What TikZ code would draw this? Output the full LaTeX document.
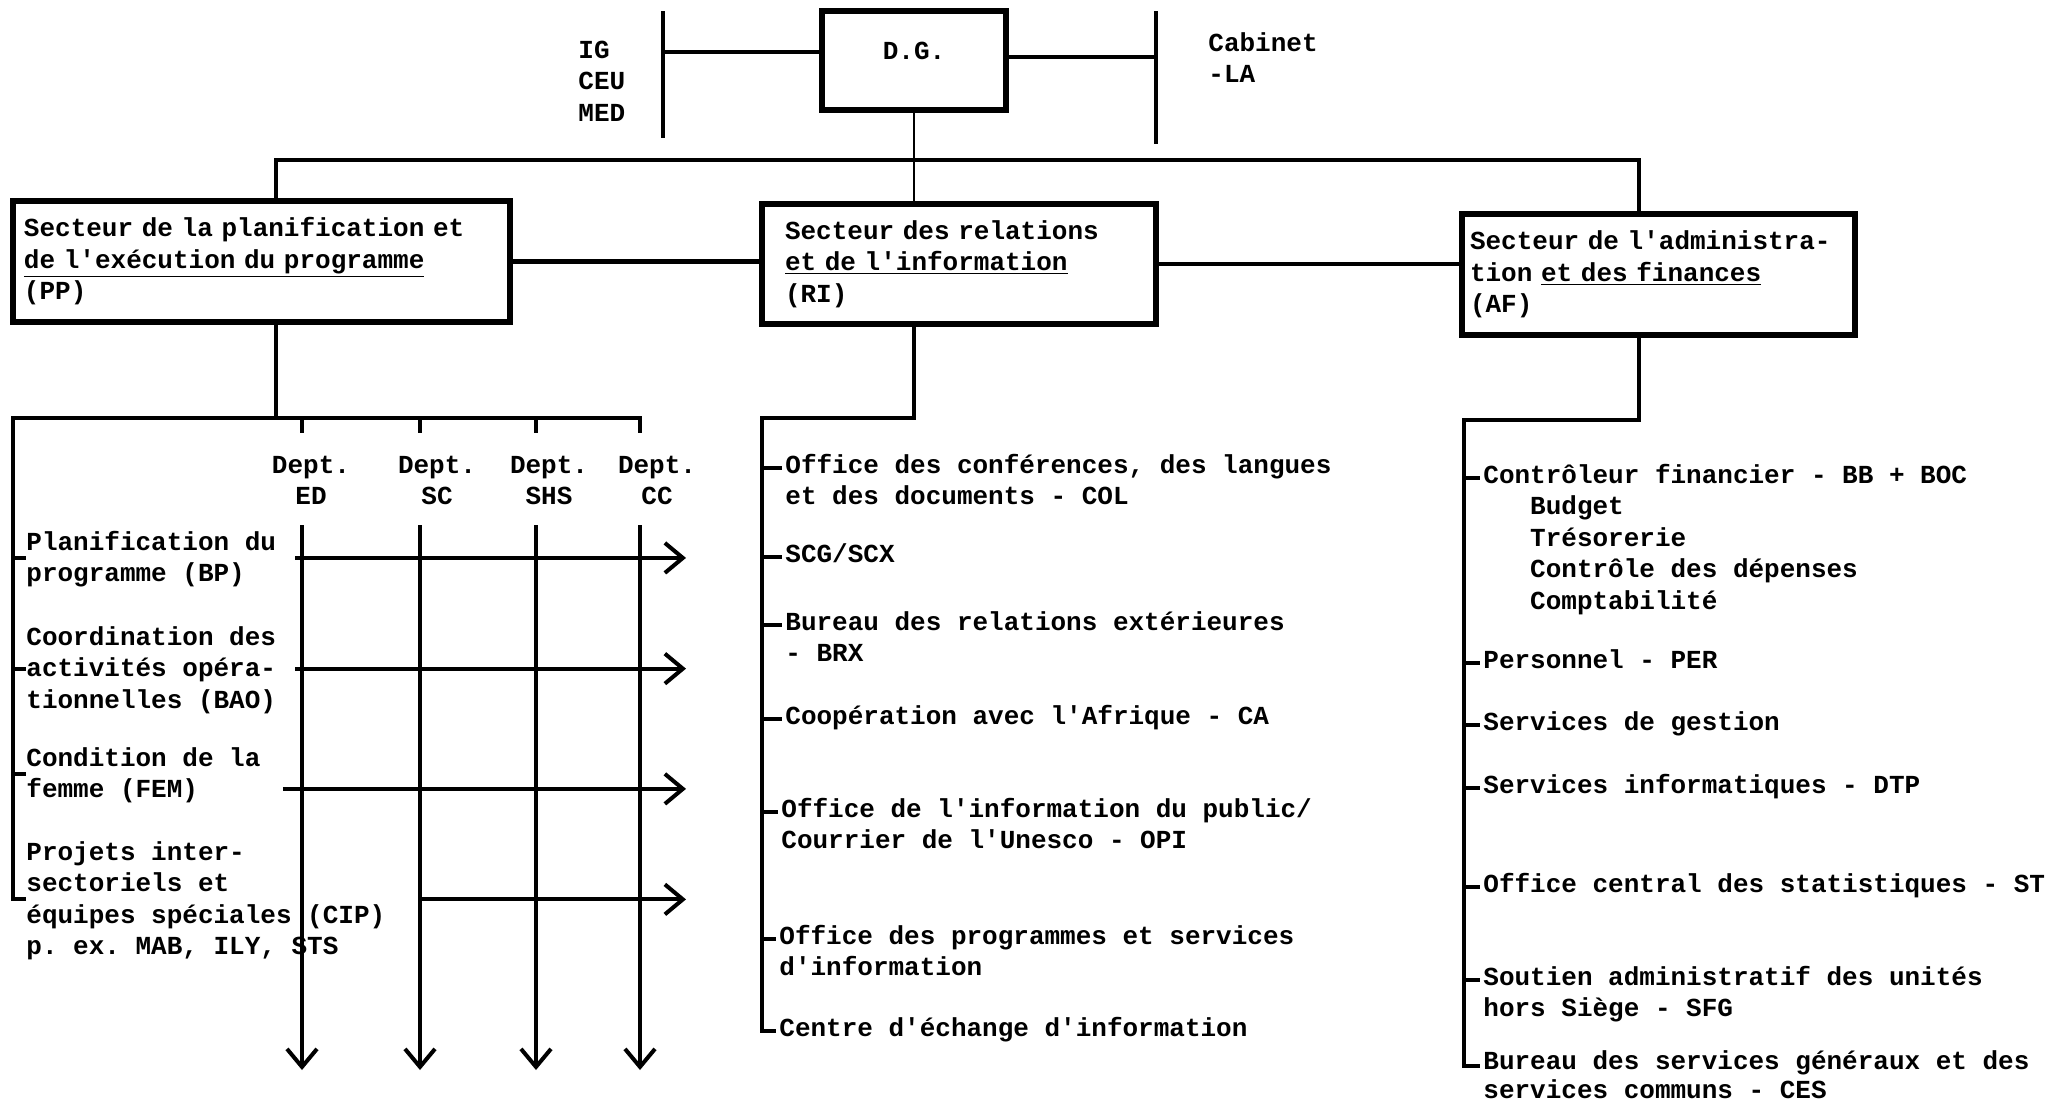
\documentclass[tikz,border=0pt]{standalone}
\usepackage{fontspec}
\setmonofont{Liberation Mono}
\usetikzlibrary{arrows.meta,calc}
\begin{document}
\begin{tikzpicture}[x=0.5pt,y=-0.5pt,
  every node/.style={font=\ttfamily\bfseries\fontsize{13pt}{15.75pt}\selectfont, inner sep=0pt},
  sbox/.style={draw, line width=2.6pt, align=left},
  ln/.style={line width=2.1pt},
  thinln/.style={line width=1.4pt},
  arr/.style={line width=2pt, -{Straight Barb[length=9pt,width=15pt,line width=2pt]}},
  item/.style={anchor=north west, align=left},
  dept/.style={anchor=north, align=center}
]
\useasboundingbox (0,0) rectangle (2059,1109);

% top
\node[sbox, align=center, minimum width=92pt, minimum height=49.5pt, text depth=10pt] (dg) at (914,60.5) {D.G.};
\node[item] (ig) at (578,36) {\strut IG\\CEU\\MED};
\node[item] (cab) at (1208,29) {\strut Cabinet\\-LA};
\coordinate (lbt) at (663,11); \coordinate (lbb) at (663,138);
\coordinate (rbt) at (1156,11); \coordinate (rbb) at (1156,144);
\draw[ln] (lbt) -- (lbb);
\draw[ln] (rbt) -- (rbb);
\coordinate (dgw) at ($(dg.north west)!0.42!(dg.south west)$);
\coordinate (dge) at ($(dg.north east)!0.47!(dg.south east)$);
\draw[ln] (dgw) -- (dgw -| lbt);
\draw[ln] (dge) -- (dge -| rbt);

% sector boxes
\node[sbox, text width=237.5pt, minimum width=248.5pt, minimum height=60.5pt] (pp) at (261.5,261.5)
  {Secteur de la planification et\\\underline{de l'exécution du programme}\\(PP)};
\node[sbox, text width=174pt, minimum width=197pt, minimum height=60pt] (ri) at (959,264)
  {Secteur des relations\\\underline{et de l'information}\\(RI)};
\node[sbox, text width=188.5pt, minimum width=196.5pt, minimum height=60.5pt] (af) at (1658.5,274.5)
  {Secteur de l'administra-\\tion \underline{et des finances}\\(AF)};

\draw[thinln] (dg.south) -- (dg.south |- ri.north);
\coordinate (busL) at (276,160); \coordinate (busR) at (1639,160);
\draw[ln] (busL |- pp.north) -- (busL) -- (busR) -- (busR |- af.north);
\draw[ln] (pp.east) -- (pp.east -| ri.west);
\draw[ln] (ri.east) -- (ri.east -| af.west);

% PP branch
\node[item] (bp) at (26,528) {\strut Planification du\\programme (BP)};
\node[item] (bao) at (26,623) {\strut Coordination des\\activités opéra-\\tionnelles (BAO)};
\node[item] (fem) at (26,744) {\strut Condition de la\\femme (FEM)};
\node[item] (cip) at (26,838) {\strut Projets inter-\\sectoriels et\\équipes spéciales (CIP)\\p. ex. MAB, ILY, STS};

\node[dept] (ded) at (311,451) {\strut Dept.\\ED};
\node[dept] (dsc) at (437,451) {\strut Dept.\\SC};
\node[dept] (dshs) at (549,451) {\strut Dept.\\SHS};
\node[dept] (dcc) at (657,451) {\strut Dept.\\CC};

\coordinate (pb0) at (13,418); \coordinate (pb1) at (640,418);
\draw[ln] (busL |- pp.south) -- (busL |- pb0);
\draw[ln] (cip.west) -| (pb0) -- (pb1) -- ++(0,15);
\foreach \n in {bp,bao,fem} \draw[ln] (pb0 |- \n.west) -- (\n.west);

\coordinate (cED) at (302,525); \coordinate (cSC) at (420,525);
\coordinate (cSHS) at (536,525); \coordinate (cCC) at (640,525);
\coordinate (bot) at (0,1070);
\foreach \c in {cED,cSC,cSHS} \draw[ln] (\c |- pb0) -- ++(0,15);
\foreach \c in {cED,cSC,cSHS,cCC} \draw[arr] (\c) -- (\c |- bot);

\coordinate (hx) at (686,0);
\draw[arr] ($(bp.east)+(19,0)$) -- (bp.east -| hx);
\draw[arr] ($(bao.east)+(19,0)$) -- (bao.east -| hx);
\coordinate (fa) at ($(fem.east)+(22,15)$);
\draw[arr] (fa) -- (fa -| hx);
\draw[arr] (cSC |- cip.west) -- (cip.west -| hx);

% RI branch
\node[item] (r1) at (785,451) {\strut Office des conférences, des langues\\et des documents - COL};
\node[item] (r2) at (785,540) {\strut SCG/SCX};
\node[item] (r3) at (785,608) {\strut Bureau des relations extérieures\\- BRX};
\node[item] (r4) at (785,702) {\strut Coopération avec l'Afrique - CA};
\node[item] (r5) at (781,795) {\strut Office de l'information du public/\\Courrier de l'Unesco - OPI};
\node[item] (r6) at (779,922) {\strut Office des programmes et services\\d'information};
\node[item] (r7) at (779,1014) {\strut Centre d'échange d'information};

\coordinate (rb0) at (762,418);
\coordinate (t7) at ($(r7.north west)+(-3,17)$);
\draw[ln] (dg.south |- ri.south) -- (dg.south |- rb0) -- (rb0) |- (t7);
\foreach \n in {r1,r2,r3,r4,r5,r6} {
  \coordinate (tt) at ($(\n.north west)+(-3,17)$);
  \draw[ln] (tt -| rb0) -- (tt);
}

% AF branch
\node[item] (a1) at (1483,461) {\strut Contrôleur financier - BB + BOC\\\hspace*{23.4pt}Budget\\\hspace*{23.4pt}Trésorerie\\\hspace*{23.4pt}Contrôle des dépenses\\\hspace*{23.4pt}Comptabilité};
\node[item] (a2) at (1483,646) {\strut Personnel - PER};
\node[item] (a3) at (1483,708) {\strut Services de gestion};
\node[item] (a4) at (1483,771) {\strut Services informatiques - DTP};
\node[item] (a5) at (1483,870) {\strut Office central des statistiques - ST};
\node[item] (a6) at (1483,963) {\strut Soutien administratif des unités\\hors Siège - SFG};
\node[item, font=\ttfamily\bfseries\fontsize{13pt}{14.5pt}\selectfont] (a7) at (1483,1049) {\strut Bureau des services généraux et des\\services communs - CES};

\coordinate (ab0) at (1464,420);
\coordinate (s7) at ($(a7.north west)+(-3,17)$);
\draw[ln] (busR |- af.south) -- (busR |- ab0) -- (ab0) |- (s7);
\foreach \n in {a1,a2,a3,a4,a5,a6} {
  \coordinate (ss) at ($(\n.north west)+(-3,17)$);
  \draw[ln] (ss -| ab0) -- (ss);
}
\end{tikzpicture}
\end{document}
